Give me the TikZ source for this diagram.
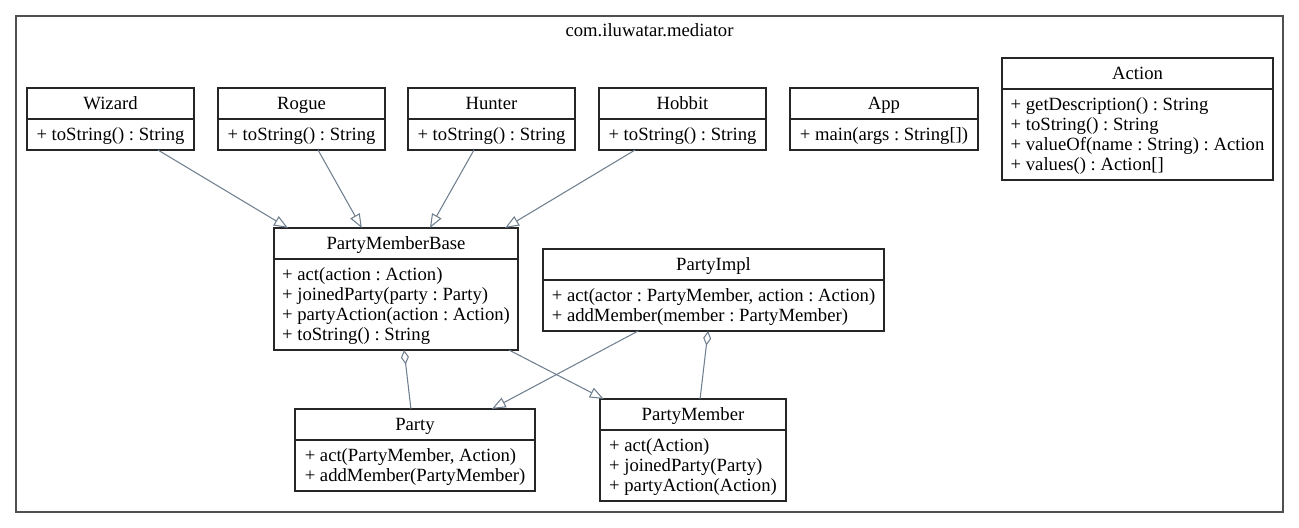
\documentclass[tikz,border=0pt]{standalone}
\usepackage{fontspec}
\setmainfont{Liberation Serif}
\frenchspacing
\usetikzlibrary{positioning,calc,arrows.meta}
\definecolor{edgec}{HTML}{708090}
\definecolor{framec}{HTML}{505050}
\tikzset{
  cls/.style={draw=black!85, line width=0.9pt, outer sep=0pt, minimum height=23.25pt,
    text height=9.5pt, text depth=0pt, anchor=north west, font=\fontsize{14pt}{15pt}\selectfont},
  mbr/.style={draw=black!85, line width=0.9pt, outer sep=0pt, align=left, inner xsep=0pt,
    inner ysep=1pt, text depth=0pt, font=\fontsize{14pt}{15pt}\selectfont},
  gen/.style={draw=edgec, line width=0.8pt, -{Triangle[open, length=10.5pt, width=8pt]}},
  agg/.style={draw=edgec, line width=0.8pt, {Diamond[open, length=11pt, width=6pt]}-}
}
\begin{document}
\begin{tikzpicture}[x=0.75pt, y=-0.75pt]
  \useasboundingbox (0,0) rectangle (1299,528);
  \draw[framec, line width=1.4pt] (16,16) rectangle (1283,512);
  \node[font=\fontsize{14pt}{15pt}\selectfont] (pkg) at (649.5,30) {com.iluwatar.mediator};

  \node[cls, minimum width=125.25pt] (wizard) at (27,88) {Wizard};
  \node[mbr, below=0pt of wizard, minimum width=125.25pt, minimum height=23.25pt] (wizard-m) {+ toString() : String};
  \node[cls, minimum width=125.25pt] (rogue) at (218,88) {Rogue};
  \node[mbr, below=0pt of rogue, minimum width=125.25pt, minimum height=23.25pt] (rogue-m) {+ toString() : String};
  \node[cls, minimum width=125.25pt] (hunter) at (408,88) {Hunter};
  \node[mbr, below=0pt of hunter, minimum width=125.25pt, minimum height=23.25pt] (hunter-m) {+ toString() : String};
  \node[cls, minimum width=125.25pt] (hobbit) at (599,88) {Hobbit};
  \node[mbr, below=0pt of hobbit, minimum width=125.25pt, minimum height=23.25pt] (hobbit-m) {+ toString() : String};
  \node[cls, minimum width=141pt] (app) at (790,88) {App};
  \node[mbr, below=0pt of app, minimum width=141pt, minimum height=23.25pt] (app-m) {+ main(args : String[])};
  \node[cls, minimum width=203.25pt] (action) at (1002,58) {Action};
  \node[mbr, below=0pt of action, minimum width=203.25pt, minimum height=68.25pt] (action-m)
    {+ getDescription() : String\\+ toString() : String\\+ valueOf(name : String) : Action\\+ values() : Action[]};

  \node[cls, minimum width=183pt] (base) at (274,228) {PartyMemberBase};
  \node[mbr, below=0pt of base, minimum width=183pt, minimum height=68.25pt] (base-m)
    {+ act(action : Action)\\+ joinedParty(party : Party)\\+ partyAction(action : Action)\\+ toString() : String};
  \node[cls, minimum width=255.75pt] (impl) at (543,249) {PartyImpl};
  \node[mbr, below=0pt of impl, minimum width=255.75pt, minimum height=38.25pt] (impl-m)
    {+ act(actor : PartyMember, action : Action)\\+ addMember(member : PartyMember)};

  \node[cls, minimum width=180pt] (party) at (295,409) {Party};
  \node[mbr, below=0pt of party, minimum width=180pt, minimum height=38.25pt] (party-m)
    {+ act(PartyMember, Action)\\+ addMember(PartyMember)};
  \node[cls, minimum width=139.5pt] (member) at (600,399) {PartyMember};
  \node[mbr, below=0pt of member, minimum width=139.5pt, minimum height=53.25pt] (member-m)
    {+ act(Action)\\+ joinedParty(Party)\\+ partyAction(Action)};

  \draw[gen] ($(wizard-m.south west)!0.784!(wizard-m.south east)$) -- ($(base.north west)!0.057!(base.north east)$);
  \draw[gen] ($(rogue-m.south west)!0.599!(rogue-m.south east)$) -- ($(base.north west)!0.36!(base.north east)$);
  \draw[gen] ($(hunter-m.south west)!0.395!(hunter-m.south east)$) -- ($(base.north west)!0.639!(base.north east)$);
  \draw[gen] ($(hobbit-m.south west)!0.216!(hobbit-m.south east)$) -- ($(base.north west)!0.947!(base.north east)$);
  \draw[gen] ($(base-m.south west)!0.963!(base-m.south east)$) -- ($(member.north west)!0.02!(member.north east)$);
  \draw[gen] ($(impl-m.south west)!0.279!(impl-m.south east)$) -- ($(party.north west)!0.82!(party.north east)$);
  \draw[agg] ($(base-m.south west)!0.533!(base-m.south east)$) -- ($(party.north west)!0.483!(party.north east)$);
  \draw[agg] ($(impl-m.south west)!0.484!(impl-m.south east)$) -- ($(member.north west)!0.538!(member.north east)$);
\end{tikzpicture}
\end{document}
